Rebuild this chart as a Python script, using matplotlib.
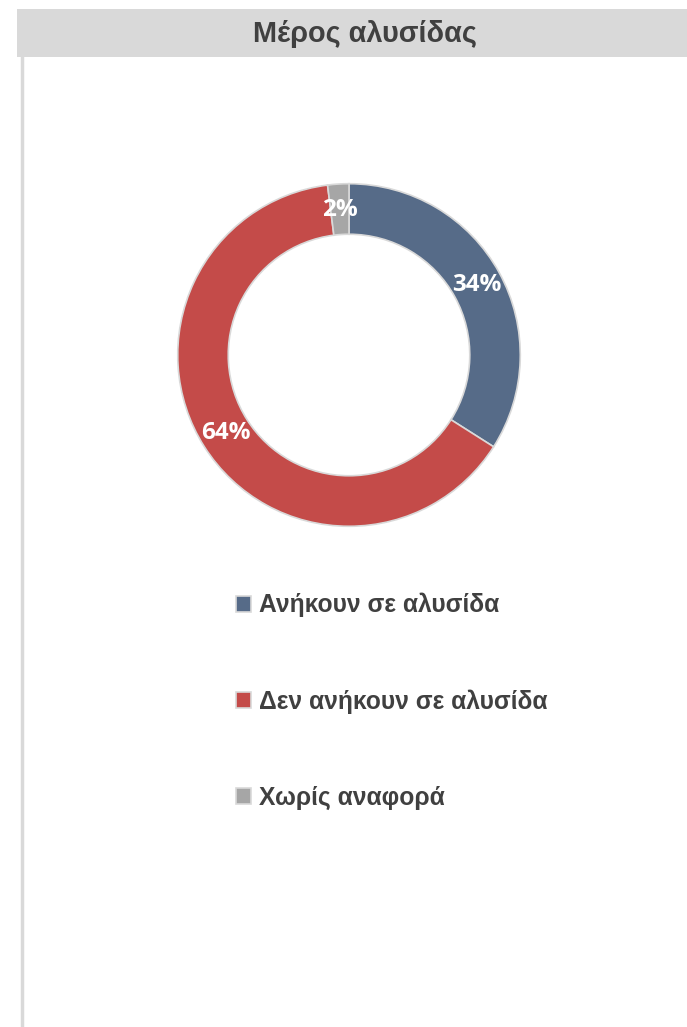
import matplotlib
matplotlib.use("Agg")
import matplotlib.pyplot as plt
from matplotlib.patches import Rectangle
from matplotlib.lines import Line2D

plt.rcParams['font.family'] = ['Liberation Sans', 'DejaVu Sans']

# Δεδομένα
labels = ['Ανήκουν σε αλυσίδα', 'Δεν ανήκουν σε αλυσίδα', 'Χωρίς αναφορά']
values = [34, 64, 2]
colors = ['#566b88', '#c44b49', '#a6a6a6']
title = 'Μέρος αλυσίδας'

W, H = 687, 1027
fig = plt.figure(figsize=(W / 100, H / 100), dpi=100)
fig.patch.set_facecolor('white')

# γκρι μπάρα τίτλου και αριστερό περίγραμμα
fig.patches.append(Rectangle((17 / W, 1 - 57 / H), 1 - 17 / W, 48 / H,
                             transform=fig.transFigure, facecolor='#d9d9d9',
                             edgecolor='none', zorder=0))
fig.lines.append(Line2D([22 / W, 22 / W], [0, 1 - 57 / H], transform=fig.transFigure,
                        color='#d9d9d9', linewidth=2.5))
fig.text(365 / W, 1 - 34 / H, title, ha='center', va='center', fontsize=20.8,
         fontweight='bold', color='#404040', family=['Liberation Sans', 'DejaVu Sans'])

# δακτύλιος
cx, cy, r = 349, 355, 173
ax = fig.add_axes([(cx - r) / W, 1 - (cy + r) / H, 2 * r / W, 2 * r / H])
wedges, texts, autotexts = ax.pie(
    values, colors=colors, startangle=90, counterclock=False, radius=1,
    wedgeprops=dict(width=0.295, edgecolor='#d9d9d9', linewidth=1.2),
    autopct='%1.0f%%', pctdistance=0.85,
    textprops=dict(color='white', fontsize=17.5, fontweight='bold',
                   family=['Open Sans', 'DejaVu Sans']))
ax.set_xlim(-1.01, 1.01)
ax.set_ylim(-1.01, 1.01)
ax.set_aspect('equal')
ax.axis('off')

fig.legend(wedges, labels, loc='upper left', bbox_to_anchor=(236 / W, 1 - 593 / H),
           frameon=False,
           prop=dict(size=17.7, weight='bold', family=['Liberation Sans', 'DejaVu Sans']),
           labelcolor='#404040', handlelength=0.6, handleheight=0.6, handletextpad=0.35,
           labelspacing=2.92, borderpad=0, borderaxespad=0)

fig.savefig('out.png', dpi=100, facecolor='white')
